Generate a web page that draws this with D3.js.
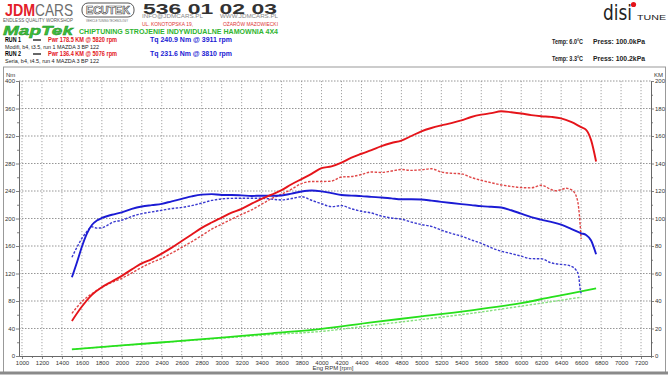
<!DOCTYPE html>
<html><head><meta charset="utf-8">
<script src="https://cdn.jsdelivr.net/npm/d3@7"></script>
<style>
body{margin:0;background:#fff}
svg{display:block;font-family:"Liberation Sans",Arial,sans-serif}
</style>
</head><body>
<svg id="c" width="668" height="376"></svg>
<script>
// ---------- data ----------
const xTicks = [1000,1200,1400,1600,1800,2000,2200,2400,2600,2800,3000,3200,3400,3600,3800,4000,4200,4400,4600,4800,5000,5200,5400,5600,5800,6000,6200,6400,6600,6800,7000,7200];
const yLeftTicks = [0,40,80,120,160,200,240,280,320,360,400];
const yRightTicks = [0,20,40,60,80,100,120,140,160,180,200];

const run1PwrRpm = [1500,1600,1700,1800,1900,2000,2100,2200,2300,2400,2500,2600,2700,2800,2900,3000,3100,3200,3300,3400,3500,3600,3700,3800,3900,4000,4100,4200,4300,4400,4500,4600,4700,4800,4900,5000,5100,5200,5300,5400,5500,5600,5700,5800,5900,6000,6100,6200,6300,6400,6500,6600,6650,6700,6750];
const run1Pwr = [25.5,36,44.5,50,54.2,58.3,63,67.3,70.5,74.5,78.8,83.6,88.4,93.2,97.1,100.7,104.3,107,110.8,114.2,117.3,120.6,124.9,128.7,132.5,136.6,137.9,140.6,144.3,147.1,149.7,152.6,154.9,156.7,160,163.4,165.8,167.7,169.4,171.4,173.8,175.5,176.6,178,177.3,176.4,175.2,174.4,173.9,172.8,170.2,166.4,164.5,157,141.5];

const run1TqRpm = [1500,1550,1600,1650,1700,1750,1800,1900,2000,2100,2200,2300,2400,2500,2600,2700,2800,2900,3000,3100,3200,3300,3400,3500,3600,3700,3800,3900,4000,4100,4200,4300,4400,4500,4600,4700,4800,4900,5000,5100,5200,5300,5400,5500,5600,5700,5800,5900,6000,6100,6200,6300,6400,6500,6600,6650,6700,6750];
const run1Tq = [114.5,136,159,178,190.5,197,200.8,205.5,209,214,217.5,219.5,221.3,225,228.5,232.2,234.8,235.5,234.2,234.2,233.6,232.8,233.2,233.2,233.5,236.2,239.2,240.7,239.5,237,234.2,233.3,232.6,231.5,230.6,229.2,227.9,227.9,227.6,226,224.2,222.5,220.9,219.5,218,217,216,212,207,202,198.4,195,191,185,178.5,176,168,148];

const run2PwrRpm = [1500,1600,1700,1800,1900,2000,2100,2200,2300,2400,2500,2600,2700,2800,2900,3000,3100,3200,3300,3400,3500,3600,3700,3800,3900,4000,4100,4200,4300,4400,4500,4600,4700,4800,4900,5000,5100,5200,5300,5400,5500,5600,5700,5800,5900,6000,6100,6200,6300,6350,6400,6450,6500,6550,6575,6590,6600];
const run2Pwr = [31,39.5,45.3,49.9,53.5,56.5,60.4,64.5,68,71,74.9,79,83.1,87.6,92.2,95.9,99.5,103,106.3,110.4,114.5,117.7,121.3,125.4,126.9,126.9,127.2,130.2,130.5,132,133.8,133.5,134.5,135.6,135,135.4,136.2,133.8,132.9,132.5,129.8,127.8,126,124.4,123.3,122.5,122.3,124.2,121.1,120.2,121,122,121,116.5,108,96,85];

const run2TqRpm = [1500,1550,1600,1650,1700,1750,1800,1850,1900,2000,2100,2200,2300,2400,2500,2600,2700,2800,2900,3000,3100,3200,3300,3400,3500,3600,3700,3800,3900,4000,4100,4200,4300,4400,4500,4600,4700,4800,4900,5000,5100,5200,5300,5400,5500,5600,5700,5800,5900,6000,6100,6200,6300,6400,6450,6500,6550,6575,6590,6600];
const run2Tq = [143.6,158,171,181,188,186,186.5,189.5,194,197.5,203,207.1,209.6,212,214.5,216.1,218.8,222.4,226.3,228.5,229.3,229.4,229.4,229.4,228.2,227,229,231.6,226.5,221.5,217.2,218.7,214,210.5,208,203.5,200.7,199.1,194.8,191.2,188.6,183,178.3,174.3,168.9,163.9,157.5,152.4,149,145.2,141.6,141.5,135.5,133.2,132.6,130.5,125,117,98,91];

const run1LossRpm = [1500,2000,2500,3000,3500,4000,4500,5000,5500,6000,6300,6500,6750];
const run1Loss = [9.7,15.4,21,26.6,33,39.5,49,57.5,66.5,77,85.5,91,98.5];
const run2LossRpm = [1500,2000,2500,3000,3500,4000,4500,5000,5500,6000,6600];
const run2Loss = [9.7,15.2,20.6,26,31.2,35.8,44.5,53,62,72.5,85.5];

// ---------- drawing ----------
const svg = d3.select("#c");
const x = d3.scaleLinear().domain([970,7300]).range([19,651]);
const yL = d3.scaleLinear().domain([0,400]).range([356,81]);
const yR = d3.scaleLinear().domain([0,200]).range([356,81]);

// frame
svg.append("line").attr("x1",3).attr("x2",666).attr("y1",67).attr("y2",67).attr("stroke","#999").attr("stroke-width",1.2);
svg.append("line").attr("x1",3.5).attr("x2",3.5).attr("y1",67).attr("y2",373).attr("stroke","#999");
svg.append("line").attr("x1",665.5).attr("x2",665.5).attr("y1",67).attr("y2",373).attr("stroke","#999");
svg.append("rect").attr("x",0).attr("y",371.5).attr("width",668).attr("height",3).attr("fill","#8a8a8a");

// grid
const g = svg.append("g");
g.selectAll(".vg").data(xTicks).join("line")
  .attr("x1",d=>x(d)).attr("x2",d=>x(d)).attr("y1",yL(400)).attr("y2",yL(0))
  .attr("stroke","#9a9a9a").attr("stroke-width",0.9).attr("stroke-dasharray","1.2,1.8");
g.selectAll(".hg").data(yLeftTicks.filter(d=>d>0)).join("line")
  .attr("x1",19).attr("x2",651).attr("y1",d=>yL(d)).attr("y2",d=>yL(d))
  .attr("stroke","#8a8a8a").attr("stroke-width",0.9).attr("stroke-dasharray","1.5,1.5");

function styleAxis(sel){
  sel.selectAll("path").attr("stroke","#666").attr("stroke-width",0.9);
  sel.selectAll("line").attr("stroke","#666").attr("stroke-width",0.8);
  sel.selectAll("text").attr("font-size","6px").attr("fill","#333").attr("font-family","Liberation Sans, Arial, sans-serif");
}
const fmt = d3.format("d");
const axL = svg.append("g").attr("transform","translate(19,0)")
  .call(d3.axisLeft(yL).tickValues(yLeftTicks).tickFormat(fmt).tickSize(3).tickPadding(1).tickSizeOuter(0));
styleAxis(axL);
const axR = svg.append("g").attr("transform","translate(651,0)")
  .call(d3.axisRight(yR).tickValues(yRightTicks).tickFormat(fmt).tickSize(3).tickPadding(1).tickSizeOuter(0));
styleAxis(axR);
const axB = svg.append("g").attr("transform","translate(0,356)")
  .call(d3.axisBottom(x).tickValues(xTicks).tickFormat(fmt).tickSize(3).tickPadding(1.5).tickSizeOuter(0));
styleAxis(axB);
// minor ticks
const minorX = xTicks.map(d=>d+100);
const minorYL = yLeftTicks.slice(0,-1).map(d=>d+20);
const minorYR = yRightTicks.slice(0,-1).map(d=>d+10);
styleAxis(svg.append("g").attr("transform","translate(0,356)").call(d3.axisBottom(x).tickValues(minorX).tickSize(2).tickFormat("").tickSizeOuter(0)));
styleAxis(svg.append("g").attr("transform","translate(19,0)").call(d3.axisLeft(yL).tickValues(minorYL).tickSize(2).tickFormat("").tickSizeOuter(0)));
styleAxis(svg.append("g").attr("transform","translate(651,0)").call(d3.axisRight(yR).tickValues(minorYR).tickSize(2).tickFormat("").tickSizeOuter(0)));

svg.append("text").attr("x",6).attr("y",77).attr("font-size","6px").attr("fill","#333").text("Nm");
svg.append("text").attr("x",654).attr("y",77).attr("font-size","6px").attr("fill","#333").text("KM");
svg.append("text").attr("x",333).attr("y",369.5).attr("text-anchor","middle").attr("font-size","6px").attr("fill","#333").text("Eng RPM [rpm]");

// series
function drawSeries(rpms, vals, yScale, color, width, dash){
  const data = rpms.map((r,i)=>[r, vals[i]]);
  const line = d3.line().x(d=>x(d[0])).y(d=>yScale(d[1])).curve(d3.curveMonotoneX);
  svg.append("path").datum(data).attr("d",line).attr("fill","none")
    .attr("stroke",color).attr("stroke-width",width)
    .attr("stroke-dasharray",dash||null).attr("stroke-linejoin","round");
}
drawSeries(run2LossRpm, run2Loss, yL, "#86e07e", 1.4, "2.5,1.5");
drawSeries(run1LossRpm, run1Loss, yL, "#27e01c", 1.8);
drawSeries(run2TqRpm, run2Tq, yL, "#3a3ad0", 1.4, "2.5,1.5");
drawSeries(run2PwrRpm, run2Pwr, yR, "#e04848", 1.4, "2.5,1.5");
drawSeries(run1TqRpm, run1Tq, yL, "#1b1bd4", 1.9);
drawSeries(run1PwrRpm, run1Pwr, yR, "#e5141a", 1.9);

// ---------- header ----------
function t(xp, yp, str, size, opts){
  opts = opts||{};
  const el = svg.append("text").attr("x",xp).attr("y",yp).attr("font-size",size+"px")
    .attr("fill",opts.fill||"#000").attr("font-weight",opts.weight||"normal").text(str);
  if(opts.len){ el.attr("textLength",opts.len).attr("lengthAdjust","spacingAndGlyphs"); }
  if(opts.style) el.attr("font-style",opts.style);
  if(opts.family) el.attr("font-family",opts.family);
  if(opts.anchor) el.attr("text-anchor",opts.anchor);
  return el;
}
// JDMCARS
t(5,15.5,"JDM",17,{fill:"#e3202a",weight:"bold",len:30,family:"Liberation Sans Narrow, Liberation Sans"});
t(35,15.5,"CARS",17,{fill:"#6e6e6e",len:38,family:"Liberation Sans Narrow, Liberation Sans"});
t(3,21.5,"ENDLESS QUALITY WORKSHOP",6,{fill:"#555",len:70,family:"Liberation Sans Narrow, Liberation Sans"});
// ECUTEK
svg.append("rect").attr("x",82).attr("y",3).attr("width",52).attr("height",14).attr("rx",6).attr("fill","none").attr("stroke","#555").attr("stroke-width",1);
t(86,14.2,"ECUTEK",10,{fill:"#fff",weight:"bold",len:44}).attr("stroke","#444").attr("stroke-width",0.6);
t(86,21.5,"VEHICLE TUNING TECHNOLOGY",3,{fill:"#666",len:42});
// phone etc.
t(143,13.5,"536 01 02 03",15.5,{fill:"#333",weight:"bold",len:134});
t(142,18,"INFO@JDMCARS.PL",5,{fill:"#888",len:61});
t(220,18,"WWW.JDMCARS.PL",5,{fill:"#888",len:58});
t(142,25.8,"UL. KONOTOPSKA 19,",5,{fill:"#d33",len:51});
t(223,25.8,"OŻARÓW MAZOWIECKI",5,{fill:"#d33",len:55});
// MapTek
t(3,35,"MapTek",13,{fill:"#3cc03c",weight:"bold",style:"italic",len:70}).attr("stroke","#1f8f1f").attr("stroke-width",0.4);
t(79,34,"CHIPTUNING STROJENIE INDYWIDUALNE HAMOWNIA 4X4",6.5,{fill:"#2fb52f",weight:"bold",len:199});
// runs
t(5,42,"RUN 1",6.5,{weight:"bold",len:16});
svg.append("line").attr("x1",33).attr("x2",41).attr("y1",40).attr("y2",40).attr("stroke","#000").attr("stroke-width",1.2);
t(48,42,"Pwr  178.5 KM @ 5820 rpm",8,{fill:"#e3141a",weight:"bold",len:69});
t(150,42,"Tq 240.9 Nm @ 3911 rpm",8,{fill:"#1a1ad4",weight:"bold",len:82});
t(5,49,"Modifi, b4, t3.5, run 1 MAZDA 3 BP 122",5.5,{fill:"#222",len:94});
t(5,56,"RUN 2",6.5,{weight:"bold",len:16});
svg.append("line").attr("x1",33).attr("x2",41).attr("y1",54).attr("y2",54).attr("stroke","#000").attr("stroke-width",1.2);
t(48,56,"Pwr  136.4 KM @ 5076 rpm",8,{fill:"#e3141a",weight:"bold",len:69});
t(150,56,"Tq 231.6 Nm @ 3810 rpm",8,{fill:"#1a1ad4",weight:"bold",len:82});
t(5,63,"Seria, b4, t4.5, run 4 MAZDA 3 BP 122",5.5,{fill:"#222",len:94});
// disi tune
t(603,20,"disi",22,{fill:"#222",len:29,family:"DejaVu Sans Condensed, DejaVu Sans"});
svg.append("circle").attr("cx",633.5).attr("cy",4.5).attr("r",2.6).attr("fill","#e3141a");
t(637,20,"TUNE",7,{fill:"#222",len:29});
t(552,43.5,"Temp: 6.0°C",6.5,{fill:"#222",weight:"bold",len:31});
t(593,43.5,"Press: 100.0kPa",6.5,{fill:"#222",weight:"bold",len:52});
t(552,60.5,"Temp: 3.3°C",6.5,{fill:"#222",weight:"bold",len:31});
t(593,60.5,"Press: 100.2kPa",6.5,{fill:"#222",weight:"bold",len:52});
</script>
</body></html>
